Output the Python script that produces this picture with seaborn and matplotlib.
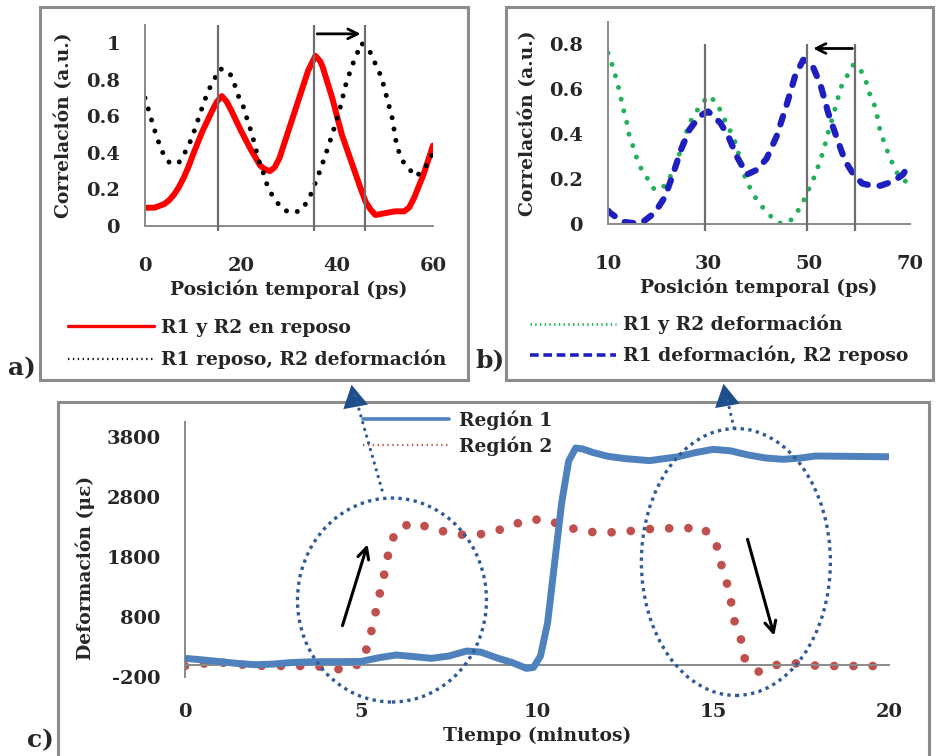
import numpy as np
import matplotlib
matplotlib.use('Agg')
import matplotlib.pyplot as plt
import seaborn as sns
from matplotlib.lines import Line2D
from matplotlib.patches import Ellipse, Rectangle, FancyArrowPatch
from matplotlib.ticker import FuncFormatter

###################################################################################
# Data

# a) correlation, both regions at rest / R2 deformed
a_rest_x = [0, 2, 3, 4, 5, 6, 7, 8, 9, 10, 12, 14, 15, 16, 17, 18, 20, 22, 24, 25, 26, 27,
            28, 30, 32, 34, 35.5, 36.5, 37, 39, 41, 43, 45, 46, 47, 48, 50, 52, 54, 55, 56,
            58, 60]
a_rest_y = [0.10, 0.10, 0.11, 0.12, 0.14, 0.17, 0.21, 0.26, 0.32, 0.39, 0.52, 0.63, 0.68,
            0.71, 0.68, 0.63, 0.52, 0.42, 0.33, 0.31, 0.30, 0.32, 0.37, 0.53, 0.69, 0.85,
            0.93, 0.90, 0.87, 0.70, 0.50, 0.35, 0.20, 0.13, 0.09, 0.06, 0.07, 0.08, 0.08,
            0.10, 0.15, 0.28, 0.44]
a_def_x = [0, 0.9, 1.7, 2.4, 3.5, 4.9, 6.9, 8.3, 9.4, 10.4, 11.3, 12.2, 13.2, 14.4, 15.6,
           17.6, 18.7, 19.6, 20.7, 21.3, 22.2, 22.9, 23.8, 24.8, 25.6, 26.9, 28.7, 30.8,
           32.8, 34.5, 36, 37.5, 39, 40.5, 42, 43.5, 45.1, 46.9, 48.1, 49.3, 50.6, 51.5,
           52.5, 54, 56.5, 58.4, 60]
a_def_y = [0.70, 0.62, 0.55, 0.49, 0.41, 0.35, 0.34, 0.40, 0.46, 0.53, 0.60, 0.67, 0.74,
           0.80, 0.86, 0.84, 0.77, 0.70, 0.64, 0.58, 0.51, 0.44, 0.35, 0.28, 0.21, 0.15,
           0.09, 0.07, 0.09, 0.17, 0.27, 0.38, 0.50, 0.63, 0.79, 0.90, 1.00, 0.95, 0.88,
           0.81, 0.68, 0.59, 0.43, 0.34, 0.27, 0.32, 0.40]
a_marks = [15.2, 35.3, 45.8]

# b) correlation, both deformed / R1 deformed
b_def_x = [10, 11.1, 11.7, 12.4, 12.9, 13.6, 14.0, 14.9, 15.6, 16.7, 17.9, 19.3, 21.3,
           22.6, 23.6, 24.3, 25.1, 25.9, 26.9, 28.2, 29.9, 31.6, 32.6, 33.7, 34.8, 35.7,
           36.2, 37.0, 38.0, 39.2, 40.5, 42.1, 43.4, 44.8, 46.5, 48.1, 49.2, 50.2, 51.2,
           52.1, 52.9, 53.5, 54.2, 54.8, 55.5, 56.1, 57.3, 58.8, 60.1, 61.3, 62.1, 63.1,
           64.1, 65.1, 65.9, 67.1, 68.2, 70]
b_def_y = [0.76, 0.69, 0.64, 0.58, 0.52, 0.47, 0.41, 0.35, 0.30, 0.24, 0.20, 0.15, 0.17,
           0.22, 0.27, 0.32, 0.38, 0.43, 0.48, 0.52, 0.57, 0.54, 0.49, 0.44, 0.39, 0.34,
           0.28, 0.22, 0.17, 0.12, 0.08, 0.04, 0.01, 0.00, 0.02, 0.07, 0.12, 0.17, 0.22,
           0.28, 0.33, 0.39, 0.44, 0.49, 0.54, 0.60, 0.65, 0.71, 0.69, 0.63, 0.57, 0.52,
           0.41, 0.35, 0.30, 0.24, 0.20, 0.18]
b_mix_x = [10, 10.4, 12.9, 16.4, 19.3, 21.3, 22.9, 24.5, 26.2, 28.2, 29.9, 32.3, 33.9,
           35.6, 37.6, 39.5, 41.5, 43.5, 45.5, 47.2, 48.8, 50.5, 52.2, 53.8, 55.5, 57.1,
           58.8, 60.5, 62.5, 64.1, 66.7, 68.6, 70]
b_mix_y = [0.06, 0.05, 0.01, 0.00, 0.05, 0.12, 0.22, 0.33, 0.42, 0.48, 0.50, 0.45, 0.39,
           0.30, 0.22, 0.24, 0.29, 0.39, 0.53, 0.66, 0.73, 0.71, 0.62, 0.49, 0.38, 0.28,
           0.22, 0.18, 0.17, 0.17, 0.19, 0.22, 0.27]
b_marks = [29.3, 49.6, 59.1]

# c) strain vs time
t_r1 = [0, 0.5, 1, 1.5, 2, 2.5, 3, 3.5, 4, 4.5, 5, 5.5, 6, 6.5, 7, 7.5, 8, 8.4, 8.9, 9.3,
        9.7, 9.9, 10.1, 10.3, 10.5, 10.7, 10.9, 11.1, 11.3, 11.6, 12, 12.5, 13.2, 14, 14.5,
        15, 15.5, 16, 16.5, 17, 17.5, 17.9, 18.5, 20]
v_r1 = [111, 85, 56, 25, 5, 15, 40, 52, 56, 56, 60, 120, 167, 140, 111, 150, 233, 215,
        111, 40, -56, -40, 150, 700, 1700, 2700, 3400, 3617, 3600, 3540, 3480, 3440, 3406,
        3470, 3540, 3594, 3570, 3500, 3450, 3428, 3450, 3483, 3480, 3470]
t_r2 = [0, 0.6, 1.2, 1.7, 2.3, 3.4, 3.9, 4.5, 5.0, 5.2, 5.33, 5.45, 5.57, 5.7, 5.8, 6.0,
        6.47, 7.0, 7.57, 8.1, 8.7, 9.2, 9.7, 10.26, 10.8, 11.4, 11.9, 12.5, 13.05, 13.6,
        14.2, 14.7, 15.08, 15.2, 15.37, 15.5, 15.6, 15.8, 15.9, 16.3, 16.8, 17.4, 18.0,
        19.7]
v_r2 = [-17, 28, 39, 0, -17, -17, -28, -83, 28, 333, 650, 972, 1289, 1611, 1939, 2250,
        2378, 2278, 2194, 2156, 2206, 2306, 2417, 2428, 2306, 2222, 2206, 2222, 2261, 2278,
        2278, 2294, 2056, 1739, 1428, 1094, 750, 417, 111, -111, 0, 28, -17, -17]
c_yticks = [-200, 800, 1800, 2800, 3800]
c_xticks = [0, 5, 10, 15, 20]

###################################################################################
# Style

sns.set_style('white')
plt.rcParams['font.family'] = ['DejaVu Serif']
plt.rcParams['font.weight'] = 'bold'
plt.rcParams['axes.unicode_minus'] = False

W, H = 937, 756
fig = plt.figure(figsize=(W / 100, H / 100), dpi=100)

def fx(px):
    return px / W

def fy(py):
    return 1 - py / H

SPINE = '#8a8a8a'
TICK_FS = 14
LAB_FS = 13.5
LEG_FS = 13.5
gfmt = FuncFormatter(lambda v, p: '%g' % v)

def style_corr(ax):
    for s in ['top', 'right']:
        ax.spines[s].set_visible(False)
    for s in ['left', 'bottom']:
        ax.spines[s].set_color(SPINE)
        ax.spines[s].set_linewidth(1.4)
    ax.tick_params(axis='y', direction='out', length=4, width=1.2, color=SPINE,
                   labelsize=TICK_FS, pad=14)
    ax.tick_params(axis='x', direction='in', length=4, width=1.2, color=SPINE,
                   labelsize=TICK_FS, pad=22)
    ax.yaxis.set_major_formatter(gfmt)
    ax.set_xlabel('Posición temporal (ps)', fontsize=LAB_FS, fontweight='bold')
    ax.set_ylabel('Correlación (a.u.)', fontsize=LAB_FS, fontweight='bold')

# panel frames
for (x0, y0, x1, y1) in [(40, 7, 468, 380), (506, 7, 933, 380), (58, 402, 929, 770)]:
    fig.add_artist(Rectangle((fx(x0), fy(y1)), fx(x1) - fx(x0), fy(y0) - fy(y1),
                             transform=fig.transFigure, fill=False, ec='#8c8c8c', lw=2.2,
                             clip_on=False))

###################################################################################
# a)
ax_a = fig.add_axes([fx(145), fy(226), fx(433) - fx(145), fy(24.7) - fy(226)])
sns.lineplot(x=a_rest_x, y=a_rest_y, ax=ax_a, color='#ff0000', lw=4.3, sort=False,
             errorbar=None, legend=False, solid_capstyle='round', solid_joinstyle='round')
sns.lineplot(x=a_def_x, y=a_def_y, ax=ax_a, color='black', lw=3.6, sort=False,
             errorbar=None, legend=False, ls=(0, (0.001, 2.3)), dash_capstyle='round')
ax_a.vlines(a_marks, -0.03, 1.1, color='#6e6e6e', lw=1.6, clip_on=False, zorder=5)
ax_a.annotate('', xy=(a_marks[2] - 0.3, 1.05), xytext=(a_marks[1], 1.05),
              arrowprops=dict(arrowstyle='->,head_length=0.7,head_width=0.35',
                              color='black', lw=2), annotation_clip=False)
ax_a.set_xlim(0, 60)
ax_a.set_ylim(0, 1.1)
ax_a.set_xticks([0, 20, 40, 60])
ax_a.set_yticks([0, 0.2, 0.4, 0.6, 0.8, 1])
style_corr(ax_a)
ax_a.yaxis.set_label_coords(-0.25, 0.5)
ax_a.xaxis.set_label_coords(0.5, -0.265)
ax_a.legend(handles=[Line2D([], [], color='#ff0000', lw=2.4),
                     Line2D([], [], color='black', lw=1.6, ls=(0, (0.6, 1.6)))],
            labels=['R1 y R2 en reposo', 'R1 reposo, R2 deformación'],
            loc='center left', bbox_to_anchor=(fx(68), fy(344)),
            bbox_transform=fig.transFigure, frameon=False, fontsize=LEG_FS,
            handlelength=4.6, handletextpad=0.37, labelspacing=0.7,
            borderpad=0, borderaxespad=0)

###################################################################################
# b)
ax_b = fig.add_axes([fx(608), fy(224), fx(910) - fx(608), fy(21.5) - fy(224)])
sns.lineplot(x=b_def_x, y=b_def_y, ax=ax_b, color='#22b05a', lw=3.6, sort=False,
             errorbar=None, legend=False, ls=(0, (0.001, 2.4)), dash_capstyle='round')
sns.lineplot(x=b_mix_x, y=b_mix_y, ax=ax_b, color='#1f1fbf', lw=4.5, sort=False,
             errorbar=None, legend=False, ls=(0, (1.4, 1.9)), dash_capstyle='round')
ax_b.vlines(b_marks, -0.03, 0.8, color='#6e6e6e', lw=1.6, clip_on=False, zorder=5)
ax_b.annotate('', xy=(b_marks[1] + 0.6, 0.78), xytext=(b_marks[2], 0.78),
              arrowprops=dict(arrowstyle='->,head_length=0.7,head_width=0.35',
                              color='black', lw=2), annotation_clip=False)
ax_b.set_xlim(10, 70)
ax_b.set_ylim(0, 0.9)
ax_b.set_xticks([10, 30, 50, 70])
ax_b.set_yticks([0, 0.2, 0.4, 0.6, 0.8])
style_corr(ax_b)
ax_b.yaxis.set_label_coords(-0.235, 0.5)
ax_b.xaxis.set_label_coords(0.5, -0.265)
ax_b.legend(handles=[Line2D([], [], color='#22b05a', lw=2, ls=(0, (0.5, 1.2))),
                     Line2D([], [], color='#1f1fbf', lw=2.6, ls=(0, (2.4, 1.3)))],
            labels=['R1 y R2 deformación', 'R1 deformación, R2 reposo'],
            loc='center left', bbox_to_anchor=(fx(530), fy(340)),
            bbox_transform=fig.transFigure, frameon=False, fontsize=LEG_FS,
            handlelength=4.6, handletextpad=0.37, labelspacing=0.6,
            borderpad=0, borderaxespad=0)

###################################################################################
# c)
ax_c = fig.add_axes([fx(185), fy(677), fx(889) - fx(185), fy(422) - fy(677)])
sns.lineplot(x=t_r1, y=v_r1, ax=ax_c, color='#4f81bd', lw=5, sort=False,
             errorbar=None, legend=False, solid_capstyle='butt', solid_joinstyle='round',
             zorder=3)
sns.lineplot(x=t_r2, y=v_r2, ax=ax_c, color='#c0504d', lw=6.3, sort=False,
             errorbar=None, legend=False, ls=(0, (0.001, 2.2)), dash_capstyle='round',
             zorder=2)
ax_c.set_xlim(0, 20)
ax_c.set_ylim(-200, 4050)
ax_c.set_xticks(c_xticks)
ax_c.set_yticks(c_yticks)
for s in ['top', 'right']:
    ax_c.spines[s].set_visible(False)
for s in ['left', 'bottom']:
    ax_c.spines[s].set_color(SPINE)
    ax_c.spines[s].set_linewidth(1.4)
ax_c.spines['bottom'].set_position(('data', 0))
ax_c.tick_params(axis='y', direction='inout', length=11, width=1.2, color=SPINE,
                 labelsize=TICK_FS, pad=12)
ax_c.tick_params(axis='x', direction='inout', length=11, width=1.2, color=SPINE,
                 labelsize=TICK_FS, pad=22)
ax_c.set_xlabel('Tiempo (minutos)', fontsize=LAB_FS, fontweight='bold')
ax_c.set_ylabel('Deformación (με)', fontsize=LAB_FS, fontweight='bold')
ax_c.yaxis.set_label_coords(-0.128, 0.427)
ax_c.xaxis.set_label_coords(0.5, -0.196)

# highlight ellipses
ell = dict(fill=False, ec='#2e5b97', lw=2.4, ls=(0, (1, 1.3)), clip_on=False, zorder=4)
ax_c.add_patch(Ellipse((5.88, 1083), 5.37, 3400, **ell))
ax_c.add_patch(Ellipse((15.65, 1717), 5.37, 4450, **ell))

# direction arrows
for tail, head in [((4.45, 611), (5.21, 2055)), ((15.96, 2139), (16.76, 444))]:
    ax_c.annotate('', xy=head, xytext=tail,
                  arrowprops=dict(arrowstyle='->,head_length=0.8,head_width=0.4',
                                  color='black', lw=2.2))

ax_c.legend(handles=[Line2D([], [], color='#4f81bd', lw=2.6),
                     Line2D([], [], color='#c0504d', lw=1.6, ls=(0, (0.6, 1.6)))],
            labels=['Región 1', 'Región 2'],
            loc='center left', bbox_to_anchor=(fx(363), fy(433)),
            bbox_transform=fig.transFigure, frameon=False, fontsize=LEG_FS,
            handlelength=4.6, handletextpad=0.5, labelspacing=0.35,
            borderpad=0, borderaxespad=0)

# connectors from the ellipses up to panels a) and b)
for (x0, y0), (x1, y1) in [((382, 490), (354, 392)), ((734, 428), (726, 394))]:
    fig.add_artist(Line2D([fx(x0), fx(x1)], [fy(y0), fy(y1)], transform=fig.transFigure,
                          color='#2e5b97', lw=2.4, ls=(0, (0.001, 2.1)),
                          dash_capstyle='round'))
for (x0, y0), (x1, y1) in [((354, 398), (351, 382)), ((726, 398), (723, 381))]:
    fig.add_artist(FancyArrowPatch((fx(x0), fy(y0)), (fx(x1), fy(y1)),
                                   transform=fig.transFigure,
                                   arrowstyle='-|>,head_length=0.9,head_width=0.5',
                                   mutation_scale=18, color='#1f4e8c', lw=0))

# panel letters
for txt, (px, py) in [('a)', (22, 368)), ('b)', (490, 360)), ('c)', (40, 740))]:
    fig.text(fx(px), fy(py), txt, fontsize=18, fontweight='bold', ha='center', va='center')

fig.savefig('out.png', dpi=100)
